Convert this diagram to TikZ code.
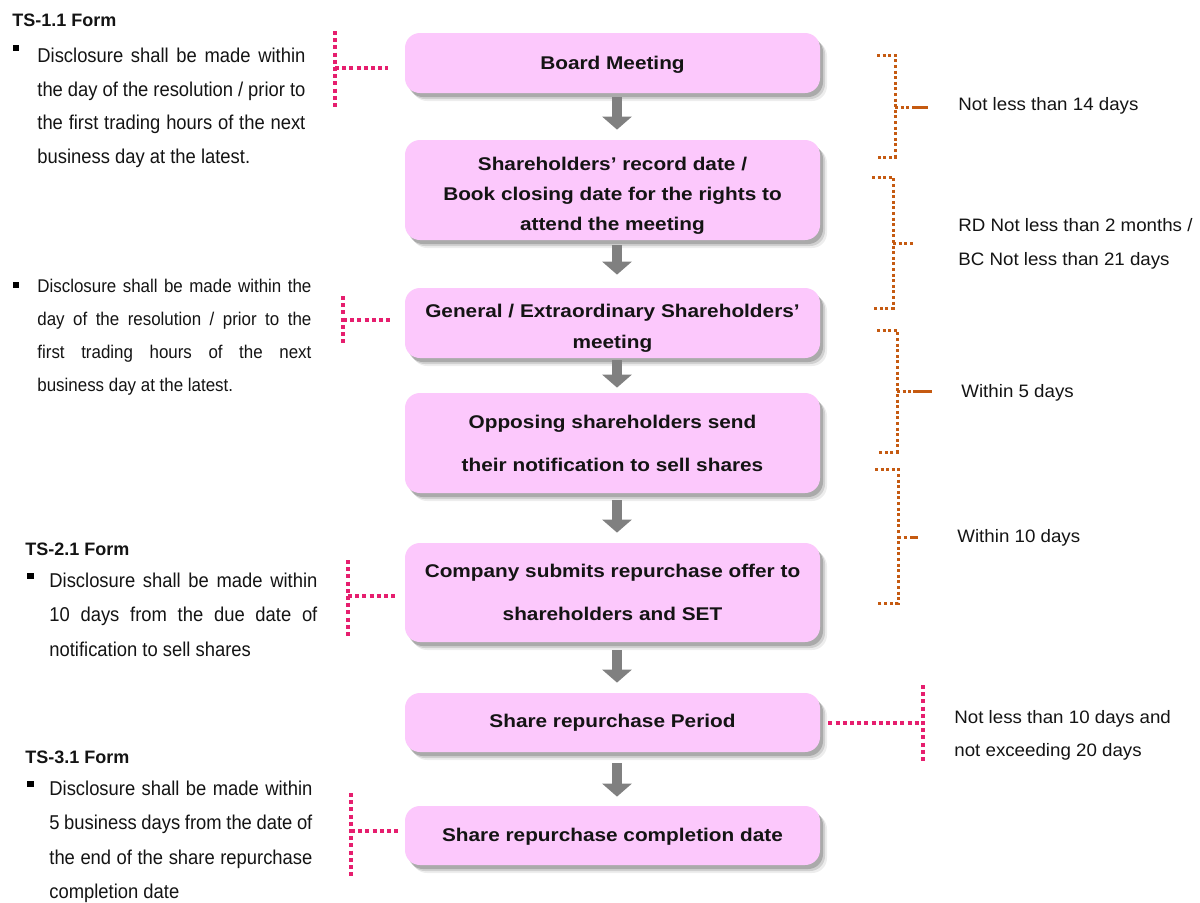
\documentclass[tikz,border=0pt]{standalone}
\usepackage{fontspec}
\setmainfont{Liberation Sans}
\newfontfamily\bxf{Liberation Sans}[FakeStretch=1.13]
\newfontfamily\ltf{Liberation Sans}[FakeStretch=0.92]
\newfontfamily\rtf{Liberation Sans}[FakeStretch=1.04]
\usetikzlibrary{arrows.meta,shadows,calc}
\definecolor{boxpink}{RGB}{252,200,252}
\definecolor{dotpink}{RGB}{230,30,110}
\definecolor{dotorange}{RGB}{197,90,17}
\definecolor{arrgray}{RGB}{128,128,128}
\definecolor{txt}{RGB}{20,20,20}
\newcommand\jl[2]{\makebox[#1][s]{#2}}
\tikzset{
  stagebox/.style={fill=boxpink, rounded corners=7.5pt, minimum width=207.5pt,
    align=center, inner sep=0pt, text=txt,
    font=\bxf\bfseries\fontsize{9.2}{15}\selectfont,
    drop shadow={shadow xshift=3.5pt, shadow yshift=-4pt, fill=black, opacity=0.07},
    drop shadow={shadow xshift=2.5pt, shadow yshift=-3pt, fill=black, opacity=0.12},
    drop shadow={shadow xshift=1.5pt, shadow yshift=-2pt, fill=black, opacity=0.18}},
  stagewide/.style={stagebox, font=\bxf\bfseries\fontsize{9.2}{21.5}\selectfont},
  leftline/.style={anchor=base west, inner sep=0pt, text=txt, font=\ltf\fontsize{10}{12}\selectfont},
  leftsmall/.style={anchor=base west, inner sep=0pt, text=txt, font=\ltf\fontsize{9.2}{11}\selectfont},
  rightline/.style={anchor=base west, inner sep=0pt, text=txt, font=\rtf\fontsize{9}{11}\selectfont},
  heading/.style={anchor=base west, inner sep=0pt, text=txt, font=\bfseries\fontsize{9}{11}\selectfont},
  bulletsq/.style={fill=black, minimum size=3.2pt, inner sep=0pt},
  pinkdot/.style={draw=dotpink, line width=2pt, dash pattern=on 2pt off 1.6pt},
  orangedot/.style={draw=dotorange, line width=1.5pt, dash pattern=on 1.5pt off 1.3pt},
  orangesolid/.style={draw=dotorange, line width=1.5pt},
  garrow/.style={draw=arrgray, line width=5pt, -{Triangle[width=14.5pt,length=6.5pt]}}
}
\begin{document}
\begin{tikzpicture}[x=0.5pt,y=-0.5pt]
\fill[white] (0,0) rectangle (1200,902);
\useasboundingbox (0,0) rectangle (1200,902);

% flow boxes
\node[stagebox, minimum height=30pt] (b1) at (612.5,63) {\rule{0pt}{8pt}Board Meeting};
\node[stagebox, minimum height=50pt] (b2) at (612.5,190) {\rule{0pt}{12pt}Shareholders’ record date /\\Book closing date for the rights to\\attend the meeting};
\node[stagebox, minimum height=35pt, font=\bxf\bfseries\fontsize{9.2}{15.5}\selectfont] (b3) at (612.5,323) {\rule{0pt}{12pt}General / Extraordinary Shareholders’\\meeting};
\node[stagewide, minimum height=50pt] (b4) at (612.5,443) {Opposing shareholders send\\their notification to sell shares};
\node[stagewide, minimum height=49.5pt] (b5) at (612.5,592.5) {Company submits repurchase offer to\\shareholders and SET};
\node[stagebox, minimum height=29.5pt] (b6) at (612.5,722.5) {Share repurchase Period};
\node[stagebox, minimum height=29.5pt] (b7) at (612.5,835.5) {\rule{0pt}{8pt}Share repurchase completion date};

% gray arrows
\draw[garrow] ([xshift=2.25pt,yshift=-2pt]b1.south) -- ([xshift=2.25pt,yshift=5pt]b2.north);
\draw[garrow] ([xshift=2.25pt,yshift=-2.5pt]b2.south) -- ([xshift=2.25pt,yshift=6.5pt]b3.north);
\draw[garrow] ([xshift=2.25pt,yshift=-1pt]b3.south) -- ([xshift=2.25pt,yshift=2.5pt]b4.north);
\draw[garrow] ([xshift=2.25pt,yshift=-3.5pt]b4.south) -- ([xshift=2.25pt,yshift=5pt]b5.north);
\draw[garrow] ([xshift=2.25pt,yshift=-4pt]b5.south) -- ([xshift=2.25pt,yshift=5pt]b6.north);
\draw[garrow] ([xshift=2.25pt,yshift=-5.5pt]b6.south) -- ([xshift=2.25pt,yshift=4.5pt]b7.north);

% left block 1
\node[heading] (h1) at (12,26) {TS-1.1 Form};
\node[bulletsq] (u1) at (16,48) {};
\node[leftline] (l11) at (37,62) {\jl{134pt}{Disclosure shall be made within}};
\node[leftline] (l12) at (37,96) {\jl{134pt}{the day of the resolution / prior to}};
\node[leftline] (l13) at (37,129) {\jl{134pt}{the first trading hours of the next}};
\node[leftline] (l14) at (37,163) {business day at the latest.};

% left block 2
\node[bulletsq] (u2) at (16,285) {};
\node[leftsmall] (l21) at (37,292) {\jl{137pt}{Disclosure shall be made within the}};
\node[leftsmall] (l22) at (37,325) {\jl{137pt}{day of the resolution / prior to the}};
\node[leftsmall] (l23) at (37,358) {\jl{137pt}{first trading hours of the next}};
\node[leftsmall] (l24) at (37,391) {business day at the latest.};

% left block 3
\node[heading] (h3) at (25,555) {TS-2.1 Form};
\node[bulletsq] (u3) at (30.5,576) {};
\node[leftline] (l31) at (49,587) {\jl{134pt}{Disclosure shall be made within}};
\node[leftline] (l32) at (49,621) {\jl{134pt}{10 days from the due date of}};
\node[leftline] (l33) at (49,656) {notification to sell shares};

% left block 4
\node[heading] (h4) at (25,763) {TS-3.1 Form};
\node[bulletsq] (u4) at (30.5,784) {};
\node[leftline] (l41) at (49,795) {\jl{131.5pt}{Disclosure shall be made within}};
\node[leftline] (l42) at (49,829) {\jl{131.5pt}{5 business days from the date of}};
\node[leftline] (l43) at (49,864) {\jl{131.5pt}{the end of the share repurchase}};
\node[leftline] (l44) at (49,898) {completion date};

% pink brackets (left)
\coordinate (p1a) at (335,31); \coordinate (p1b) at (335,108); \coordinate (p1h) at (335,68);
\draw[pinkdot] (p1a) -- (p1b);
\draw[pinkdot] (p1h) -- ($(p1h -| b1.west)+(-17,0)$);
\coordinate (p2a) at (343,296); \coordinate (p2b) at (343,346); \coordinate (p2h) at (343,320);
\draw[pinkdot] (p2a) -- (p2b);
\draw[pinkdot] (p2h) -- ($(p2h -| b3.west)+(-13,0)$);
\coordinate (p3a) at (348,560); \coordinate (p3b) at (348,637); \coordinate (p3h) at (348,596);
\draw[pinkdot] (p3a) -- (p3b);
\draw[pinkdot] (p3h) -- ($(p3h -| b5.west)+(-10,0)$);
\coordinate (p4a) at (351,793); \coordinate (p4b) at (351,879); \coordinate (p4h) at (351,831);
\draw[pinkdot] (p4a) -- (p4b);
\draw[pinkdot] (p4h) -- ($(p4h -| b7.west)+(-7,0)$);

% pink bracket (right)
\coordinate (pra) at (923,685); \coordinate (prb) at (923,761);
\draw[pinkdot] (pra) -- (prb);
\draw[pinkdot] ($(b6.east)+(8,0)$) -- (pra |- b6.east);

% orange brackets
\draw[orangedot] (877,55) -- (895,55) -- (895,157) -- (877,157);
\draw[orangedot] (895,107) -- (909,107);
\draw[orangesolid] (912,107) -- (928,107);
\draw[orangedot] (872,177) -- (893,177) -- (893,308) -- (872,308);
\draw[orangedot] (893,243) -- (915,243);
\draw[orangedot] (877,330) -- (897,330) -- (897,452) -- (877,452);
\draw[orangedot] (897,391) -- (911,391);
\draw[orangesolid] (913,391) -- (932,391);
\draw[orangedot] (875,469) -- (898,469) -- (898,603) -- (877,603);
\draw[orangedot] (898,537) -- (909,537);
\draw[orangesolid] (910,537) -- (918,537);

% right texts
\node[rightline] (r1) at (958,110) {Not less than 14 days};
\node[rightline] (r2) at (958,231) {RD Not less than 2 months /};
\node[rightline] (r3) at (958,265) {BC Not less than 21 days};
\node[rightline] (r4) at (961,397) {Within 5 days};
\node[rightline] (r5) at (957,542) {Within 10 days};
\node[rightline] (r6) at (954,723) {Not less than 10 days and};
\node[rightline] (r7) at (954,756) {not exceeding 20 days};
\end{tikzpicture}
\end{document}
